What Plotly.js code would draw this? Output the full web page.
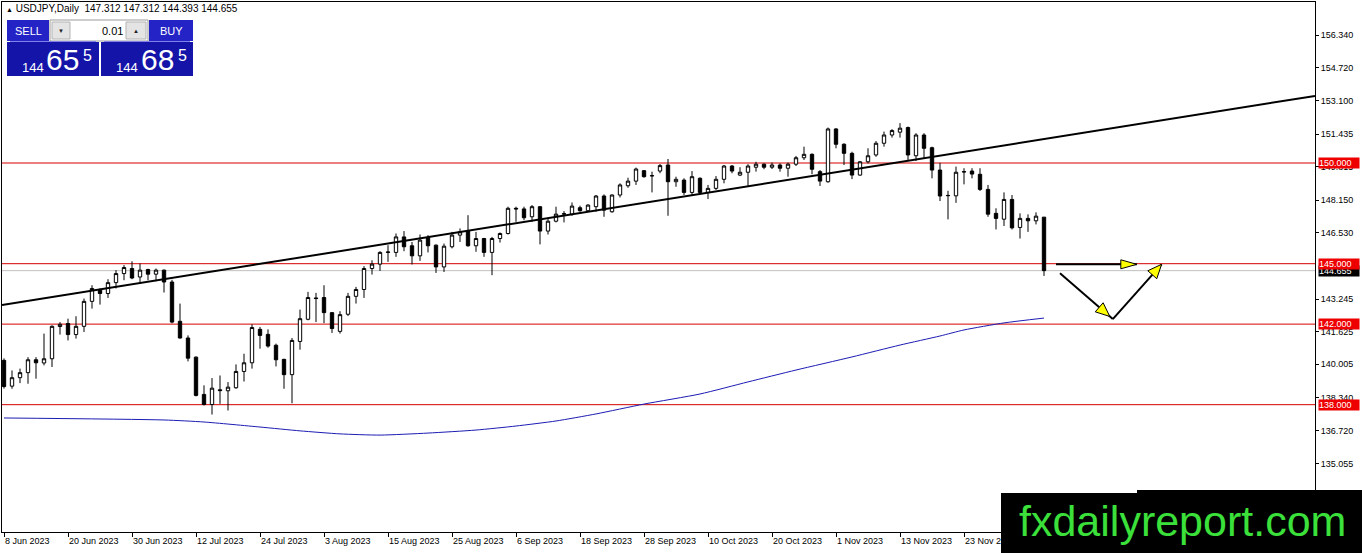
<!DOCTYPE html>
<html><head><meta charset="utf-8">
<script src="https://cdn.plot.ly/plotly-3.0.1.min.js"></script>
<style>html,body{margin:0;padding:0;background:#fff;overflow:hidden}#chart{width:1362px;height:553px}</style>
</head><body><div id="chart"></div>
<script>
// ---- Data (USDJPY daily, 8 Jun 2023 .. 7 Dec 2023), bar index 0..130 ----
const openP  = [140.20,138.92,139.34,139.59,140.23,140.07,140.28,141.88,142.03,141.48,141.89,143.13,143.72,143.52,144.06,144.51,144.76,144.34,144.71,144.48,
 144.68,144.09,142.14,141.31,140.36,138.51,138.01,138.74,138.69,138.84,139.65,140.08,141.74,141.49,140.95,140.25,139.49,141.14,142.24,143.30,
 143.32,142.57,141.64,142.49,143.38,143.72,144.76,144.98,145.56,145.56,146.33,145.89,145.39,146.30,145.92,144.84,145.84,146.42,146.62,145.89,
 146.25,145.56,146.25,146.50,147.75,147.72,147.33,147.83,146.62,147.11,147.46,147.46,147.78,147.63,147.83,148.36,147.58,148.41,148.87,149.10,
 149.62,149.36,149.60,149.90,149.07,149.15,148.54,149.24,148.54,148.74,149.19,149.85,149.40,149.54,149.79,149.94,149.79,149.90,149.74,149.94,
 150.26,150.43,149.57,149.07,151.69,150.93,150.48,149.40,150.06,150.40,150.98,151.39,151.53,151.76,150.36,151.39,150.76,149.65,148.39,148.37,
 149.55,149.60,149.44,148.69,147.50,147.21,148.19,146.80,147.25,147.13,147.312];
const highP  = [140.30,139.70,139.79,140.36,140.36,141.53,141.94,142.10,142.27,142.39,143.27,143.93,143.77,144.23,144.68,144.93,145.12,145.01,144.75,144.76,
 144.71,144.20,143.02,141.44,140.40,138.96,139.32,139.45,139.12,140.00,140.53,141.99,141.86,141.74,141.03,140.28,141.31,142.72,143.60,143.55,
 143.93,142.60,142.64,143.55,143.85,144.88,145.17,145.62,145.92,146.50,146.62,146.08,146.45,146.42,145.96,146.00,146.58,146.75,147.41,146.58,
 146.28,146.33,146.55,147.83,147.83,147.83,147.91,147.86,147.25,147.83,147.61,148.04,147.88,147.95,148.41,148.44,148.44,148.99,149.27,149.77,
 149.65,149.57,149.95,150.20,149.32,149.24,149.60,149.29,148.91,149.35,149.90,149.90,149.79,149.94,150.06,149.98,150.02,149.98,150.02,150.35,
 150.81,150.48,149.65,151.76,151.73,150.98,150.56,150.10,150.73,151.09,151.56,151.68,151.98,151.81,151.48,151.48,150.81,150.01,148.62,149.82,
 149.74,149.74,149.74,148.91,147.75,148.54,148.41,147.50,147.45,147.55,147.312];
const lowP   = [138.80,138.79,139.07,139.04,139.29,139.95,139.87,141.48,141.19,141.28,141.61,142.77,142.97,143.30,143.77,144.18,144.23,144.01,144.18,144.13,
 143.57,142.04,141.28,140.15,138.41,137.96,137.51,138.04,137.71,138.79,139.15,139.79,140.78,140.83,139.90,138.79,138.07,140.73,142.19,142.10,
 142.05,141.56,141.53,142.40,143.02,143.30,144.46,144.64,145.09,145.34,145.62,144.96,145.14,145.56,144.54,144.59,145.76,146.08,145.84,145.59,
 145.34,144.43,146.05,146.45,147.08,147.16,147.08,145.96,146.45,147.05,147.05,147.38,147.58,147.58,147.58,147.33,147.53,148.29,148.77,148.91,
 149.27,148.54,149.49,147.38,148.82,148.41,148.41,148.44,148.21,148.66,148.99,149.49,149.35,148.86,149.57,149.69,149.70,149.57,149.32,149.85,
 150.15,149.44,148.86,149.02,150.73,149.90,149.20,149.37,149.98,150.31,150.81,151.26,151.26,150.10,150.10,150.23,149.24,148.11,147.20,148.02,
 148.94,149.24,148.61,147.33,146.70,146.87,146.70,146.25,146.58,146.95,144.393];
const closeP = [138.90,139.34,139.59,140.23,140.08,140.28,141.89,141.99,141.48,141.89,143.13,143.77,143.52,144.06,144.51,144.81,144.29,144.68,144.48,144.68,
 144.09,142.10,141.31,140.31,138.46,138.01,138.82,138.70,138.87,139.65,140.08,141.83,141.44,140.91,140.23,139.49,141.19,142.27,143.32,143.27,
 142.57,141.78,142.47,143.38,143.72,144.76,144.98,145.56,145.58,146.33,145.84,145.39,146.17,145.89,144.84,145.87,146.42,146.58,145.89,146.25,
 145.56,146.25,146.50,147.75,147.72,147.28,147.83,146.62,147.11,147.46,147.48,147.86,147.63,147.91,148.36,147.66,148.41,148.91,149.10,149.70,
 149.32,149.37,149.87,149.07,149.19,148.54,149.32,148.54,148.74,149.19,149.85,149.60,149.54,149.85,149.94,149.79,149.90,149.74,149.94,150.26,
 150.43,149.69,149.10,151.69,150.93,150.48,149.40,150.06,150.36,150.98,151.39,151.61,151.73,150.40,151.39,150.73,149.65,148.36,148.38,149.54,
 149.57,149.45,148.69,147.46,147.25,148.19,146.78,147.25,147.13,147.36,144.655];

// 200-period moving average (blue), read at selected bars
const maIdx = [0,20,25,32,37,42,47,53,59,64,69,74,80,87,93,99,106,112,117,120,125,130];
const maVal = [137.34,137.24,137.14,136.89,136.70,136.55,136.49,136.59,136.74,136.94,137.19,137.54,138.03,138.53,139.13,139.72,140.37,140.96,141.41,141.71,142.06,142.30];

const tickIdx  = [0,8,16,24,32,40,48,56,64,72,80,88,96,104,112,120];
const tickText = ['8 Jun 2023','20 Jun 2023','30 Jun 2023','12 Jul 2023','24 Jul 2023','3 Aug 2023','15 Aug 2023','25 Aug 2023',
  '6 Sep 2023','18 Sep 2023','28 Sep 2023','10 Oct 2023','20 Oct 2023','1 Nov 2023','13 Nov 2023','23 Nov 2023'];
const yTickVals = [156.340,154.720,153.100,151.435,149.815,148.150,146.530,143.245,141.625,140.005,138.340,136.720,135.055];

const levels = [150,145,142,138];
const lastPrice = 144.655;
const trendLine = {x0:-0.25, y0:142.95, x1:163.875, y1:153.33};
// projected path arrows: [start bar, start price, end bar, end price]
const arrows = [[131.5,144.97,141.6,144.97],[132.0,144.52,138.6,142.25],[138.6,142.25,144.7,144.97]];

// ---- Layout geometry ----
const W=1362,H=553,L=2,R=47,T=2,B=21;
const PW=W-L-R, PH=H-T-B;
const XR=[-0.25,163.875], YR=[131.678,157.994];
const toPxX=i=>L+(i-XR[0])/(XR[1]-XR[0])*PW;
const toPxY=p=>T+(YR[1]-p)/(YR[1]-YR[0])*PH;
const fromPxX=px=>XR[0]+(px-L)/PW*(XR[1]-XR[0]);
const fromPxY=py=>YR[1]-(py-T)/PH*(YR[1]-YR[0]);
const PX=px=>(px-L)/PW, PY=py=>1-(py-T)/PH;

const idx = openP.map((_,i)=>i);

const traces = [
  {type:'candlestick', x:idx, open:openP, high:highP, low:lowP, close:closeP,
   increasing:{line:{color:'#000',width:1}, fillcolor:'#ffffff'},
   decreasing:{line:{color:'#000',width:1}, fillcolor:'#000000'},
   whiskerwidth:0, showlegend:false, hoverinfo:'skip'},
  {type:'scatter', mode:'lines', x:maIdx, y:maVal, line:{color:'#1c1cb4',width:1,shape:'spline',smoothing:0.6}, showlegend:false, hoverinfo:'skip'}
];

const shapes = [];
levels.forEach(v=>shapes.push({type:'line',xref:'paper',x0:0,x1:1,yref:'y',y0:v,y1:v,line:{color:'#d40000',width:1},layer:'below'}));
shapes.push({type:'line',xref:'paper',x0:0,x1:1,yref:'y',y0:lastPrice,y1:lastPrice,line:{color:'#c0c0c0',width:1},layer:'below'});
shapes.push({type:'line',xref:'x',yref:'y',x0:trendLine.x0,y0:trendLine.y0,x1:trendLine.x1,y1:trendLine.y1,line:{color:'#000',width:2}});

function headPath(sx,sy,ex,ey,len,half,back){
  const x0=toPxX(sx),y0=toPxY(sy),x1=toPxX(ex),y1=toPxY(ey);
  const dx=x1-x0,dy=y1-y0,d=Math.hypot(dx,dy),ux=dx/d,uy=dy/d;
  const tx=x1-ux*back, ty=y1-uy*back;
  const bx=tx-ux*len, by=ty-uy*len;
  const nx=-uy*half, ny=ux*half;
  const pts=[[tx,ty],[bx+nx,by+ny],[bx-nx,by-ny]];
  return 'M'+pts.map(p=>fromPxX(p[0])+','+fromPxY(p[1])).join(' L')+' Z';
}
arrows.forEach((a,k)=>{
  shapes.push({type:'line',xref:'x',yref:'y',x0:a[0],y0:a[1],x1:a[2],y1:a[3],line:{color:'#000',width:2}});
});
arrows.forEach((a,k)=>{
  const back = k===1?4:0;
  shapes.push({type:'path',xref:'x',yref:'y',path:headPath(a[0],a[1],a[2],a[3],k===0?16:14,k===0?4.5:6,back),
    fillcolor:'#ffff00',line:{color:'#000',width:1}});
});

// One-click trading panel (pixel boxes -> paper)
function rect(x0,y0,x1,y1,fill,lc,lw){
  shapes.push({type:'rect',xref:'paper',yref:'paper',x0:PX(x0),x1:PX(x1),y0:PY(y1),y1:PY(y0),
    fillcolor:fill,line:{color:lc||fill,width:lw||0},layer:'above'});
}
rect(7,20,49,41,'#2424c6');
rect(50,20,148,41,'#ffffff','#9a9a9a',1);
rect(52,22,70,39,'#e4e4e4','#b4b4b4',1);
rect(126,22,146,39,'#e4e4e4','#b4b4b4',1);
rect(149,20,193,41,'#2424c6');
rect(7,42,99,76,'#1414a8');
rect(101,42,193,76,'#1414a8');
shapes.push({type:'line',xref:'paper',yref:'paper',x0:PX(10),x1:PX(96),y0:PY(41.5),y1:PY(41.5),line:{color:'#8080e8',width:1},layer:'above'});
shapes.push({type:'line',xref:'paper',yref:'paper',x0:PX(104),x1:PX(190),y0:PY(41.5),y1:PY(41.5),line:{color:'#8080e8',width:1},layer:'above'});
// watermark box
rect(1001,493,1362,553,'#000000');
rect(1137,490,1362,494,'#000000');

const F='Liberation Sans, Arial, sans-serif';
const ann = [];
function txt(text,px,py,size,color,xa,extra){
  ann.push(Object.assign({text:text,xref:'paper',yref:'paper',x:PX(px),y:PY(py),xanchor:xa||'left',yanchor:'middle',
    showarrow:false,font:{family:F,size:size,color:color},borderpad:0},extra||{}));
}
txt('<span style="font-size:7px">▲</span> USDJPY,Daily  147.312 147.312 144.393 144.655',5,8.5,10,'#000');
txt('SELL',28,30.5,11,'#ffffff','center');
txt('BUY',171,30.5,11,'#ffffff','center');
txt('0.01',124,30.5,11,'#000','right');
txt('▼',61,30.5,6,'#222','center');
txt('▲',136,30.5,6,'#222','center');
txt('144',21,67.5,13,'#ffffff');
txt('65',45,60,30,'#ffffff');
txt('5',82,55.5,16,'#ffffff');
txt('144',115,67.5,13,'#ffffff');
txt('68',140,60,30,'#ffffff');
txt('5',177,55.5,16,'#ffffff');
txt('fxdailyreport.com',1182,521,43,'#3be03b','center');

// price labels on the right scale
ann.push({text:lastPrice.toFixed(3),xref:'paper',x:PX(1318),xanchor:'left',yref:'y',y:lastPrice,yanchor:'middle',
  showarrow:false,bgcolor:'#000',font:{family:F,size:9,color:'#fff'},borderpad:0,width:40,height:10,align:'left'});
levels.forEach(v=>ann.push({text:v.toFixed(3),xref:'paper',x:PX(1318),xanchor:'left',yref:'y',y:v,yanchor:'middle',
  showarrow:false,bgcolor:'#ee0000',font:{family:F,size:9,color:'#fff'},borderpad:0,width:40,height:10,align:'left'}));

const layout = {
  width:W,height:H,margin:{l:L,r:R,t:T,b:B,pad:0},
  paper_bgcolor:'#fff',plot_bgcolor:'#fff',showlegend:false,boxgap:0.4,
  font:{family:F,size:9,color:'#000'},
  xaxis:{type:'linear',range:XR,showgrid:false,zeroline:false,rangeslider:{visible:false},
    showline:true,linecolor:'#000',linewidth:1,mirror:true,ticks:'outside',ticklen:4,tickcolor:'#000',
    tickvals:tickIdx,ticktext:tickText,ticklabelposition:'outside right',tickfont:{family:F,size:9,color:'#000'}},
  yaxis:{range:YR,side:'right',showgrid:false,zeroline:false,showline:true,linecolor:'#000',linewidth:1,mirror:true,
    ticks:'outside',ticklen:3,tickcolor:'#000',tickvals:yTickVals,ticktext:yTickVals.map(v=>v.toFixed(3)),
    tickfont:{family:F,size:9,color:'#000'}},
  shapes:shapes, annotations:ann
};
Plotly.newPlot('chart',traces,layout,{staticPlot:true,displayModeBar:false});
</script></body></html>
